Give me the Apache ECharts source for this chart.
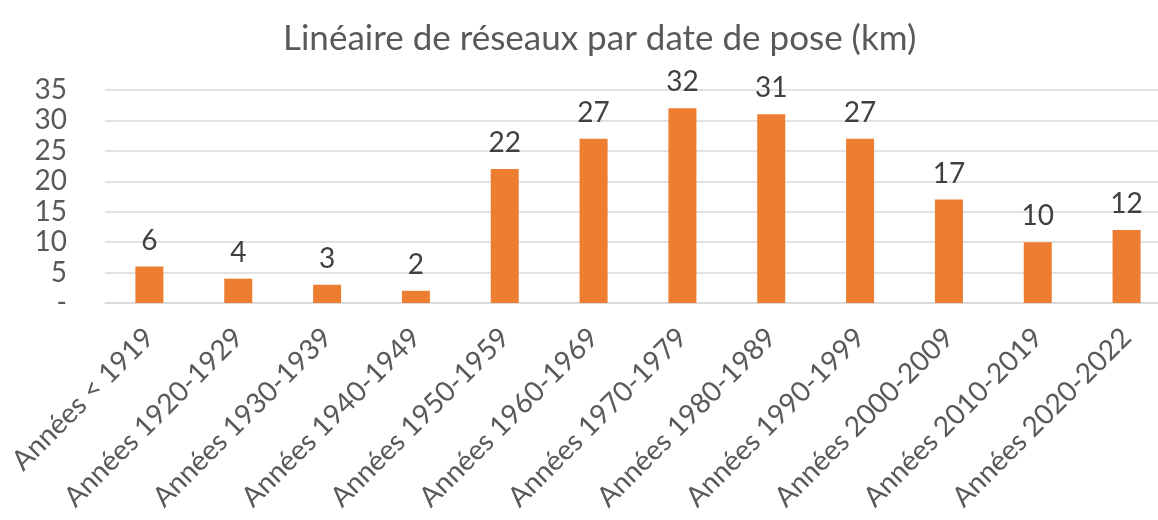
<!DOCTYPE html>
<html lang="fr">
<head>
  <meta charset="UTF-8">
  <title>Linéaire de réseaux par date de pose</title>
  <script src="https://cdn.jsdelivr.net/npm/echarts@6/dist/echarts.min.js"></script>
  <style>
    html, body { margin: 0; padding: 0; background: #fff; }
    #chart { width: 1158px; height: 520px; }
  </style>
</head>
<body>
  <div id="chart"></div>
  <script>
    // données
    const categories = ['Années < 1919', 'Années 1920-1929', 'Années 1930-1939', 'Années 1940-1949',
      'Années 1950-1959', 'Années 1960-1969', 'Années 1970-1979', 'Années 1980-1989',
      'Années 1990-1999', 'Années 2000-2009', 'Années 2010-2019', 'Années 2020-2022'];
    const lengthKm = [6, 4, 3, 2, 22, 27, 32, 31, 27, 17, 10, 12];
    const yTicks = [0, 5, 10, 15, 20, 25, 30, 35];

    const font = 'Lato, "Open Sans", sans-serif';
    const chart = echarts.init(document.getElementById('chart'));
    chart.setOption({
      animation: false,
      title: {
        text: 'Linéaire de réseaux par date de pose (km)',
        left: 278, top: 16,
        textStyle: { fontFamily: font, fontSize: 35, fontWeight: 'normal', color: '#595959' }
      },
      grid: { left: 105, top: 90, width: 1066, height: 213, outerBoundsMode: 'none' },
      xAxis: {
        type: 'category',
        data: categories,
        axisLine: { lineStyle: { color: '#d9d9d9', width: 1.5 } },
        axisTick: { show: false },
        axisLabel: {
          rotate: 45, interval: 0, margin: 30,
          fontFamily: font, fontSize: 28, color: '#595959'
        }
      },
      yAxis: {
        type: 'value',
        min: yTicks[0], max: yTicks[yTicks.length - 1], interval: 5,
        axisLine: { show: false },
        axisTick: { show: false },
        splitLine: { lineStyle: { color: '#d9d9d9', width: 1.5 } },
        axisLabel: {
          margin: 38,
          fontFamily: font, fontSize: 28, color: '#595959',
          formatter: v => v === 0 ? '-' : String(v)
        }
      },
      series: [{
        type: 'bar',
        data: lengthKm,
        barWidth: 28,
        itemStyle: { color: '#ED7D31' },
        label: {
          show: true, position: 'top', distance: 12,
          fontFamily: font, fontSize: 28, color: '#404040'
        }
      }]
    });
  </script>
</body>
</html>
